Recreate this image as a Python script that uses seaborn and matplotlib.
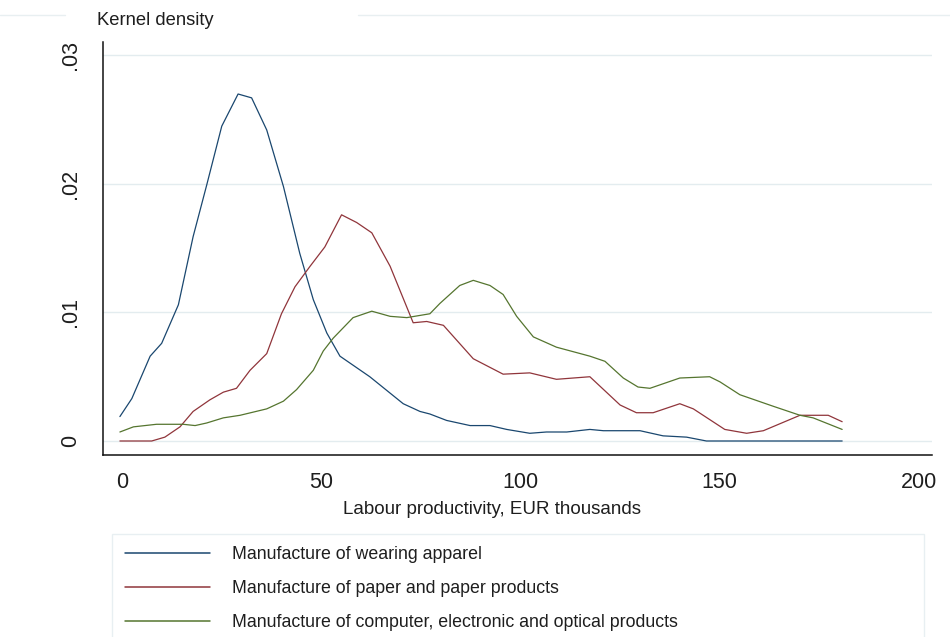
import matplotlib
matplotlib.use("Agg")
import matplotlib.pyplot as plt
from matplotlib.lines import Line2D
import numpy as np
import pandas as pd
import seaborn as sns

# Kernel density estimates of labour productivity (EUR thousands) by industry
apparel_x = [-0.7, 2.3, 6.9, 9.8, 14.0, 17.7, 21.1, 24.9, 29.0, 32.4, 36.2, 40.4,
             44.5, 47.9, 51.3, 54.6, 62.1, 70.5, 74.7, 77.2, 81.4, 87.3, 92.3,
             96.5, 102.3, 106.5, 111.6, 117.4, 120.8, 130.0, 135.8, 141.7, 146.7, 180.8]
apparel_y = [.0019, .0033, .0066, .0076, .0106, .0159, .0199, .0245, .0270, .0267,
             .0242, .0198, .0146, .0110, .0084, .0066, .0050, .0029, .0023, .0021,
             .0016, .0012, .0012, .0009, .0006, .0007, .0007, .0009, .0008, .0008,
             .0004, .0003, 0.0, 0.0]

paper_x = [-0.7, 7.3, 10.6, 14.4, 17.7, 21.9, 25.3, 28.6, 32.0, 36.2, 39.9, 43.3,
           47.1, 50.8, 55.0, 58.8, 62.6, 67.2, 73.0, 76.4, 80.6, 88.1, 95.6, 102.3,
           109.0, 117.4, 125.0, 129.1, 133.3, 140.0, 143.4, 151.3, 156.8, 161.0,
           170.2, 177.3, 180.8]
paper_y = [0.0, 0.0, .0003, .0011, .0023, .0032, .0038, .0041, .0055, .0068, .0099,
           .0120, .0136, .0151, .0176, .0170, .0162, .0136, .0092, .0093, .0090,
           .0064, .0052, .0053, .0048, .0050, .0028, .0022, .0022, .0029, .0025,
           .0009, .0006, .0008, .0020, .0020, .0015]

computer_x = [-0.7, 2.7, 8.5, 15.2, 18.2, 21.1, 25.3, 29.5, 36.2, 40.4, 43.7, 47.9,
              50.4, 52.9, 57.9, 62.6, 67.2, 71.4, 77.2, 79.7, 84.7, 88.1, 92.3, 95.6,
              99.0, 103.2, 109.0, 117.4, 121.2, 125.8, 129.5, 132.5, 140.0, 147.5,
              150.1, 155.1, 163.5, 170.2, 173.5, 180.8]
computer_y = [.0007, .0011, .0013, .0013, .0012, .0014, .0018, .0020, .0025, .0031,
              .0040, .0055, .0070, .0080, .0096, .0101, .0097, .0096, .0099, .0107,
              .0121, .0125, .0121, .0114, .0097, .0081, .0073, .0066, .0062, .0049,
              .0042, .0041, .0049, .0050, .0046, .0036, .0027, .0020, .0018, .0009]

industries = ["Manufacture of wearing apparel",
              "Manufacture of paper and paper products",
              "Manufacture of computer, electronic and optical products"]
colors = ["#1a476f", "#90353b", "#55752f"]

x_ticks = [0, 50, 100, 150, 200]
y_ticks = [0, 0.01, 0.02, 0.03]
y_tick_labels = ["0", ".01", ".02", ".03"]

frames = []
for name, xs, ys in zip(industries,
                        [apparel_x, paper_x, computer_x],
                        [apparel_y, paper_y, computer_y]):
    frames.append(pd.DataFrame({"productivity": xs, "density": ys, "industry": name}))
df = pd.concat(frames, ignore_index=True)

sns.set_style("white")
plt.rcParams["font.family"] = ["Liberation Sans", "DejaVu Sans"]
text_color = "#1e1e1e"

W, H = 950, 637
fig = plt.figure(figsize=(W / 100, H / 100), dpi=100)
ax = fig.add_axes([103.3 / W, 1 - 455 / H, (931.7 - 103.3) / W, (455 - 41.7) / H])

sns.lineplot(data=df, x="productivity", y="density", hue="industry",
             hue_order=industries, palette=colors, estimator=None,
             linewidth=0.9, ax=ax, legend=False)

ax.set_xlim(-4.87, 203.3)
ax.set_ylim(-0.00109, 0.03107)

ax.set_xticks(x_ticks)
ax.set_xticklabels([str(t) for t in x_ticks])
ax.set_yticks(y_ticks)
ax.set_yticklabels(y_tick_labels, rotation=90, va="center")

ax.tick_params(axis="both", direction="out", length=7, width=1.1,
               colors="#111111", labelsize=15.5, labelcolor=text_color)
ax.tick_params(axis="x", pad=5)
ax.tick_params(axis="y", pad=9)

ax.grid(axis="y", color="#e3ecef", linewidth=1.0)
ax.grid(axis="x", visible=False)
ax.set_axisbelow(True)

for side in ("top", "right"):
    ax.spines[side].set_visible(False)
for side in ("left", "bottom"):
    ax.spines[side].set_color("#111111")
    ax.spines[side].set_linewidth(1.1)

ax.set_xlabel("Labour productivity, EUR thousands", fontsize=13.5, color=text_color)
ax.xaxis.set_label_coords((491.7 - 103.3) / 828.4, (455 - 510) / 413.3)
ax.xaxis.label.set_va("center")

ax.set_ylabel("Kernel density", fontsize=13.2, color=text_color, rotation=0)
ax.yaxis.set_label_coords((97 - 103.3) / 828.4, (455 - 20.7) / 413.3)
ax.yaxis.label.set_ha("left")
ax.yaxis.label.set_va("center")

handles = [Line2D([], [], color=c, linewidth=1.1) for c in colors]
leg = ax.legend(handles, industries, loc="upper left",
                bbox_to_anchor=(112 / W, 1 - 533.5 / H, (924 - 112) / W, 0.0),
                bbox_transform=fig.transFigure, mode="expand",
                fontsize=12.8, frameon=True, fancybox=False,
                handlelength=4.8, handletextpad=1.22, labelspacing=0.94,
                borderpad=0.72, borderaxespad=0.0)
leg.get_frame().set_edgecolor("#e3ecef")
leg.get_frame().set_linewidth(1.0)
for t in leg.get_texts():
    t.set_color(text_color)

# faint outer frame line across the top of the graph region
for x0, x1 in [(0, 65), (358, 950)]:
    fig.add_artist(Line2D([x0 / W, x1 / W], [1 - 15 / H, 1 - 15 / H],
                          transform=fig.transFigure, color="#e8eff1", linewidth=1.0))

fig.savefig("out.png", dpi=100, facecolor="white")
